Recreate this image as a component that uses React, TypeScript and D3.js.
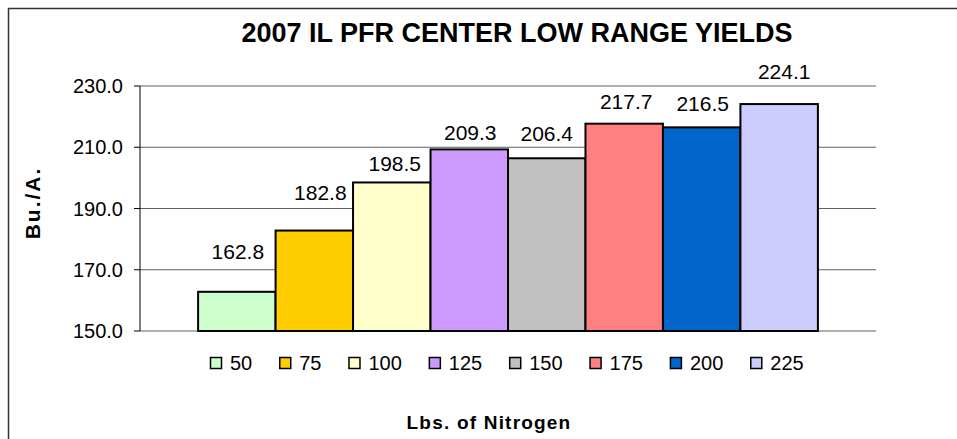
import React from 'react';
import * as d3 from 'd3';

// Chart data
const series = ['50', '75', '100', '125', '150', '175', '200', '225'];
const yields = [162.8, 182.8, 198.5, 209.3, 206.4, 217.7, 216.5, 224.1];
const colors = ['#CCFFCC', '#FFCC00', '#FFFFCC', '#CC99FF', '#C0C0C0', '#FF8080', '#0066CC', '#CCCCFF'];
const yTicks = [150, 170, 190, 210, 230];

// data labels were nudged by hand in the original chart: [dx, lift above bar] in px
const labelNudge = [
  [1, 33], [6, 31], [3, 11], [1, 9], [0, 17], [2, 15], [1, 16], [5, 25],
];

const width = 957;
const height = 439;
const plot = { left: 140, right: 876, top: 86, bottom: 331 };
const font = '"Liberation Sans", Arial, sans-serif';

const App = () => {
  const x = d3
    .scaleBand<string>()
    .domain(series)
    .range([plot.left, plot.right])
    .paddingInner(0)
    .paddingOuter(0.75);

  const y = d3.scaleLinear().domain([150, 230]).range([plot.bottom, plot.top]);
  const fmt = d3.format('.1f');

  // legend layout: square, label, gap
  const legendFont = 20;
  let cursor = 210;
  const legendItems = series.map((s, i) => {
    const item = { s, i, x: cursor };
    cursor += 20 + s.length * 0.556 * legendFont + 27;
    return item;
  });

  return (
    <svg
      width={width}
      height={height}
      style={{ position: 'absolute', left: 0, top: 0, background: '#fff' }}
      fontFamily={font}
    >
      {/* outer chart border */}
      <rect x={8.5} y={8.5} width={width + 20} height={height + 20} fill="#fff" stroke="#333" strokeWidth={1.5} />

      <text x={517} y={42} textAnchor="middle" fontSize={27} fontWeight="bold">
        2007 IL PFR CENTER LOW RANGE YIELDS
      </text>

      {/* gridlines */}
      {yTicks.map((t) => (
        <line key={t} x1={plot.left} x2={plot.right} y1={y(t)} y2={y(t)} stroke="#606060" strokeWidth={1.2} />
      ))}

      {/* y axis */}
      <line x1={plot.left} x2={plot.left} y1={plot.top} y2={plot.bottom} stroke="#000" />
      {yTicks.map((t) => (
        <g key={t} transform={`translate(0,${y(t)})`}>
          <line x1={plot.left - 6} x2={plot.left} stroke="#000" />
          <text x={plot.left - 17} dy="0.36em" textAnchor="end" fontSize={20}>
            {fmt(t)}
          </text>
        </g>
      ))}

      {/* bars */}
      {series.map((s, i) => (
        <rect
          key={s}
          x={x(s)}
          y={y(yields[i])}
          width={x.bandwidth()}
          height={plot.bottom - y(yields[i])}
          fill={colors[i]}
          stroke="#000"
          strokeWidth={2}
        />
      ))}

      {/* data labels */}
      {series.map((s, i) => (
        <text
          key={s}
          x={(x(s) as number) + x.bandwidth() / 2 + labelNudge[i][0]}
          y={y(yields[i]) - labelNudge[i][1]}
          textAnchor="middle"
          fontSize={21}
        >
          {fmt(yields[i])}
        </text>
      ))}

      {/* legend */}
      {legendItems.map((d) => (
        <g key={d.s}>
          <rect x={d.x + 0.5} y={357.5} width={11} height={11} fill={colors[d.i]} stroke="#000" strokeWidth={1.5} />
          <text x={d.x + 20} y={369.5} fontSize={legendFont}>
            {d.s}
          </text>
        </g>
      ))}

      {/* axis titles */}
      <text x={489} y={429} textAnchor="middle" fontSize={19} fontWeight="bold" letterSpacing={1.2}>
        Lbs. of Nitrogen
      </text>
      <text
        transform="translate(40,203) rotate(-90)"
        textAnchor="middle"
        fontSize={21}
        fontWeight="bold"
        letterSpacing={2}
      >
        Bu./A.
      </text>
    </svg>
  );
};

export default App;
